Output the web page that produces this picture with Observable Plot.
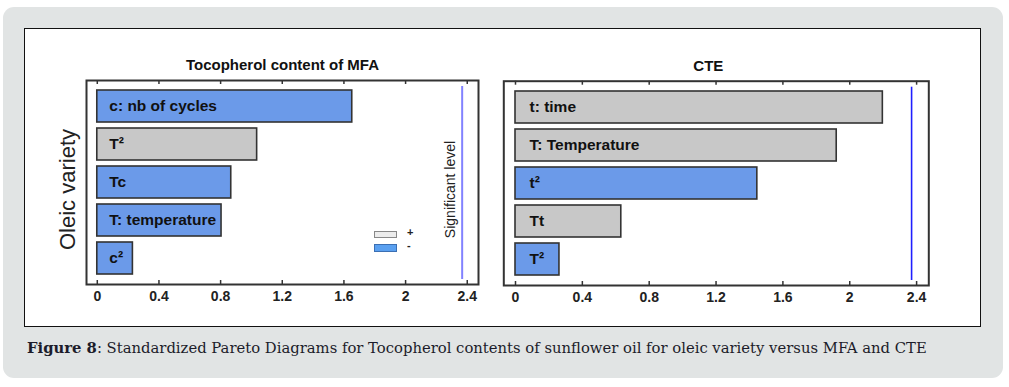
<!DOCTYPE html>
<html>
<head>
<meta charset="utf-8">
<script src="https://cdn.jsdelivr.net/npm/d3@7"></script>
<script src="https://cdn.jsdelivr.net/npm/@observablehq/plot@0.6"></script>
<style>
  html, body { margin: 0; padding: 0; background: #ffffff; }
  body { width: 1009px; height: 387px; position: relative; overflow: hidden; font-family: "Liberation Sans", Arial, sans-serif; }
  #panel { position: absolute; left: 3px; top: 7px; width: 1000px; height: 371px; background: #e1e4e4; border-radius: 11px; }
  #box { position: absolute; left: 24px; top: 28px; width: 957px; height: 299px; box-sizing: border-box; background: #ffffff; border: 1px solid #111; }
  .chart { position: absolute; top: 28px; }
  .chart svg { background: transparent !important; overflow: visible; }
  #caption { position: absolute; left: 27px; top: 339px; font-family: "DejaVu Serif", "Liberation Serif", serif; font-size: 14.8px; color: #1c1c2a; white-space: nowrap; }
  .sw { position: absolute; left: 374px; width: 23px; box-sizing: border-box; }
  .lg { position: absolute; left: 407px; font: bold 11px "Liberation Sans", Arial, sans-serif; color: #222; }
</style>
</head>
<body>
<div id="panel"></div>
<div id="box"></div>
<div id="left" class="chart" style="left:24px"></div>
<div id="right" class="chart" style="left:490px"></div>
<div class="sw" style="top:231px;height:7px;background:#ececec;border:1px solid #888"></div>
<div class="sw" style="top:244px;height:8px;background:#5aa0f0;border:1px solid #3b6fb3"></div>
<div class="lg" style="top:226px">+</div>
<div class="lg" style="top:239px">-</div>
<div id="caption"><b>Figure 8</b>: Standardized Pareto Diagrams for Tocopherol contents of sunflower oil for oleic variety versus MFA and CTE</div>
<script>
// ---- data ----
const mfaTitle = "Tocopherol content of MFA";
const mfaTerms = ["c: nb of cycles", "T²", "Tc", "T: temperature", "c²"];
const mfaEffects = [1.654, 1.037, 0.869, 0.806, 0.231];
const mfaSigns = ["-", "+", "-", "-", "-"];
const mfaSignificant = 2.367;

const cteTitle = "CTE";
const cteTerms = ["t: time", "T: Temperature", "t²", "Tt", "T²"];
const cteEffects = [2.198, 1.922, 1.447, 0.633, 0.263];
const cteSigns = ["+", "+", "-", "+", "-"];
const cteSignificant = 2.37;

const xTicks = [0, 0.4, 0.8, 1.2, 1.6, 2, 2.4];
const xDomain = [-0.07, 2.473];
const yLabel = "Oleic variety";
const sigLabel = "Significant level";

function table(terms, effects, signs) {
  return terms.map((t, i) => ({term: t, effect: effects[i], sign: signs[i]}));
}

function pareto({data, title, sig, sigColor, sigWidth, width, marginLeft, marginRight, marginTop, marginBottom, extra, titleDx, labelDx}) {
  const frameH = 299 - marginTop - marginBottom;
  return Plot.plot({
    width, height: 299,
    marginLeft, marginRight, marginTop, marginBottom,
    style: {background: "transparent", fontFamily: "Liberation Sans, Arial, sans-serif"},
    x: {domain: xDomain, ticks: xTicks, tickFormat: d => String(d)},
    y: {domain: data.map(d => d.term), paddingInner: 0.163, paddingOuter: 0.224, axis: null},
    color: {domain: ["+", "-"], range: ["#c8c8c8", "#6b9ae9"]},
    marks: [
      Plot.barX(data, {x: "effect", y: "term", fill: "sign", stroke: "#333", strokeWidth: 1.6}),
      Plot.text(data, {x: () => 0, y: "term", text: "term", textAnchor: "start", dx: labelDx, fontWeight: "bold", fontSize: 15.5, fill: "#111"}),
      Plot.ruleX([sig], {x: d => d, stroke: sigColor, strokeWidth: sigWidth, insetTop: 6, insetBottom: 5}),
      Plot.gridX(xTicks, {stroke: "#333", strokeOpacity: 1, strokeWidth: 1.5, insetTop: frameH - 4}),
      Plot.gridX(xTicks, {stroke: "#333", strokeOpacity: 1, strokeWidth: 1.5, insetBottom: frameH - 4}),
      Plot.axisX({anchor: "bottom", ticks: xTicks, tickSize: 0, tickPadding: 7, fontSize: 14, fontWeight: "bold", fill: "#222", label: null, tickFormat: d => String(d)}),
      Plot.frame({stroke: "#333", strokeWidth: 2}),
      Plot.text([title], {frameAnchor: "top", lineAnchor: "middle", textAnchor: "middle", dy: -15, dx: titleDx, fontWeight: "bold", fontSize: 15, fill: "#111"}),
      ...extra
    ]
  });
}

document.getElementById("left").append(pareto({
  data: table(mfaTerms, mfaEffects, mfaSigns),
  title: mfaTitle, sig: mfaSignificant, sigColor: "#8282ff", sigWidth: 2,
  width: 470, marginLeft: 62, marginRight: 16, marginTop: 52, marginBottom: 43, titleDx: 0, labelDx: 12,
  extra: [
    Plot.text([yLabel], {frameAnchor: "left", textAnchor: "middle", lineAnchor: "middle", rotate: -90, dx: -19, dy: 7, fontSize: 22, fill: "#222"}),
    Plot.text([sigLabel], {frameAnchor: "right", textAnchor: "middle", lineAnchor: "middle", rotate: -90, dx: -28, dy: 7, fontSize: 14, fill: "#222"})
  ]
}));

document.getElementById("right").append(pareto({
  data: table(cteTerms, cteEffects, cteSigns),
  title: cteTitle, sig: cteSignificant, sigColor: "#1f1fff", sigWidth: 1.6,
  width: 450, marginLeft: 13.3, marginRight: 11.7, marginTop: 52.7, marginBottom: 42, titleDx: -8, labelDx: 14,
  extra: []
}));
</script>
</body>
</html>
